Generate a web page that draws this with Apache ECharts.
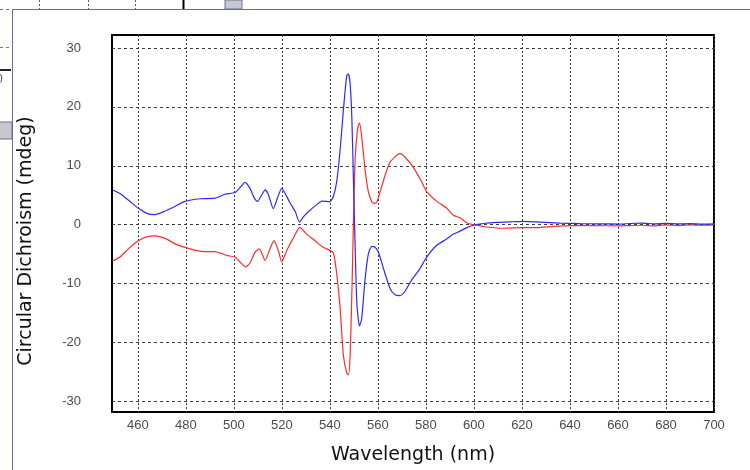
<!DOCTYPE html>
<html>
<head>
<meta charset="utf-8">
<style>
  html, body { margin: 0; padding: 0; background: #ffffff; }
  #chart { width: 750px; height: 470px; }
</style>
<script src="https://cdn.jsdelivr.net/npm/echarts@6/dist/echarts.min.js"></script>
</head>
<body>
<div id="chart"></div>
<script>
// CD spectrum, sample A (blue trace): wavelength (nm) and ellipticity (mdeg)
const blueNm = [449.5, 452.5, 456.7, 460.2, 464.3, 467.1, 470.6, 474.7, 479.6, 485.9,
  492.1, 496.3, 500.4, 502.5, 504.6, 506.7, 508.4, 509.8, 511.6, 513.0,
  514.4, 516.4, 518.1, 519.9, 521.3, 523.4, 525.5, 527.3, 529.2, 531.7,
  534.5, 536.6, 540.0, 541.4, 542.8, 544.2, 545.6, 547.0, 547.7, 548.4,
  549.1, 549.8, 550.5, 551.2, 552.3, 553.2, 554.6, 556.0, 557.4, 558.8,
  560.2, 562.3, 565.0, 567.1, 569.2, 571.3, 574.0, 577.5, 580.3, 584.5,
  588.6, 591.4, 594.2, 597.0, 599.7, 603.9, 609.5, 616.4, 620.6, 627.5,
  635.9, 644.2, 652.5, 660.5, 665, 670, 675, 680, 685, 690, 695, 700];
const blueCd = [5.9, 5.3, 3.95, 2.8, 1.83, 1.72, 2.17, 2.95, 3.95, 4.4,
  4.5, 5.17, 5.45, 6.28, 7.17, 6.17, 4.6, 3.95, 5.05, 5.9,
  5.05, 2.7, 4.5, 6.17, 5.33, 3.67, 2.28, 0.45, 1.45, 2.45,
  3.4, 4.0, 3.9, 4.78, 7.28, 12.5, 19.5, 25.3, 25.6, 23.95,
  18.4, 7.28, -3.83, -13.3, -17.2, -16.05, -9.4, -4.95, -3.67, -3.83,
  -4.67, -7.45, -10.8, -11.9, -12.05, -11.3, -9.4, -7.45, -5.5, -3.5,
  -2.45, -1.6, -1.1, -0.5, -0.1, 0.2, 0.4, 0.5, 0.56, 0.44,
  0.28, 0.17, 0.15, 0.1, 0.2, 0.25, 0.15, 0.22, 0.12, 0.18, 0.1, 0.12];

// CD spectrum, sample B (red trace)
const redNm = [449.5, 452.5, 456.0, 460.2, 463.7, 467.1, 471.3, 476.2, 481.7, 487.3,
  492.1, 497.0, 500.4, 502.5, 504.9, 506.7, 508.8, 510.6, 513.0, 515.0,
  516.7, 518.5, 519.9, 522.0, 524.5, 527.5, 530.3, 533.8, 536.6, 538.6,
  541.4, 542.8, 544.2, 545.6, 547.0, 547.7, 548.4, 549.1, 549.8, 550.5,
  551.5, 552.3, 553.2, 554.6, 556.0, 557.9, 559.2, 560.9, 563.0, 565.0,
  567.9, 569.2, 571.3, 574.7, 578.2, 580.3, 584.5, 588.6, 591.4, 594.2,
  597.0, 599.7, 605.3, 612.3, 619.2, 626.2, 633.1, 641.5, 649.8, 660.5,
  665, 670, 675, 680, 685, 690, 695, 700];
const redCd = [-6.17, -5.5, -4.11, -2.72, -2.06, -1.89, -2.33, -3.39, -4.11, -4.56,
  -4.56, -5.22, -5.5, -6.33, -7.17, -6.5, -4.67, -4.11, -6.05, -4.11,
  -2.72, -4.39, -6.33, -4.39, -2.45, -0.45, -1.61, -2.72, -3.7, -4.11,
  -4.8, -8.28, -14.0, -22.2, -25.2, -25.5, -22.2, -12.2, 0.6, 11.2,
  16.2, 17.3, 15.05, 9.5, 5.6, 3.67, 3.67, 5.6, 8.4, 10.6,
  11.8, 12.1, 11.45, 9.78, 7.28, 5.6, 3.95, 2.83, 1.6, 1.17,
  0.33, 0.0, -0.39, -0.61, -0.5, -0.5, -0.28, -0.17, -0.17, -0.2,
  -0.15, -0.1, -0.2, -0.05, -0.15, -0.05, -0.1, -0.05];

// Tick labels
const xTicks = [460, 480, 500, 520, 540, 560, 580, 600, 620, 640, 660, 680, 700];
const yTicks = [-30, -20, -10, 0, 10, 20, 30];

const xTitle = 'Wavelength (nm)';
const yTitle = 'Circular Dichroism (mdeg)';

const pairs = (xs, ys) => xs.map((x, i) => [x, ys[i]]);

const chart = echarts.init(document.getElementById('chart'), null, { renderer: 'canvas' });

const labelStyle = {
  color: '#4a4a4a',
  fontFamily: 'Liberation Sans, Arial, sans-serif',
  fontSize: 13
};

chart.setOption({
  animation: false,
  backgroundColor: '#ffffff',
  grid: {
    left: 112, top: 35, width: 602, height: 384,
    show: true, borderColor: '#000000', borderWidth: 2, backgroundColor: 'transparent'
  },
  xAxis: {
    type: 'value',
    min: 449.2,
    max: 700,
    name: xTitle,
    nameLocation: 'middle',
    nameGap: 34,
    nameTextStyle: { color: '#111', fontFamily: 'DejaVu Sans, sans-serif', fontSize: 19 },
    axisLine: { show: false },
    axisTick: { show: false, customValues: xTicks },
    axisLabel: Object.assign({ customValues: xTicks, margin: 7 }, labelStyle),
    splitLine: { show: true, lineStyle: { color: '#3a3a3a', width: 1, type: [2, 2] } }
  },
  yAxis: {
    type: 'value',
    min: -31.8,
    max: 32.2,
    axisLine: { show: false },
    axisTick: { show: false, customValues: yTicks },
    axisLabel: Object.assign({ customValues: yTicks, margin: 31 }, labelStyle),
    splitLine: { show: true, lineStyle: { color: '#3a3a3a', width: 1, type: [3, 3] } }
  },
  series: [
    {
      type: 'line',
      data: pairs(redNm, redCd),
      showSymbol: false,
      smooth: 0.2,
      lineStyle: { color: '#ff2a2a', width: 1.2 },
      z: 3
    },
    {
      type: 'line',
      data: pairs(blueNm, blueCd),
      showSymbol: false,
      smooth: 0.2,
      lineStyle: { color: '#2a2aff', width: 1.2 },
      z: 4
    }
  ],
  graphic: [
    // vertical axis title
    {
      type: 'text', x: 26, y: 241, rotation: Math.PI / 2,
      style: {
        text: yTitle, align: 'center', verticalAlign: 'middle',
        fill: '#111', font: '19px "DejaVu Sans", sans-serif'
      }
    },
    // window frame around the plot panel
    { type: 'line', shape: { x1: 12.5, y1: 470, x2: 12.5, y2: 9.5 }, style: { stroke: '#6a6aa8', lineWidth: 1 } },
    { type: 'line', shape: { x1: 12, y1: 9.5, x2: 750, y2: 9.5 }, style: { stroke: '#6a6aa8', lineWidth: 1 } },
    // neighbouring panels peeking out behind the window
    { type: 'line', shape: { x1: 0, y1: 9.5, x2: 11, y2: 9.5 }, style: { stroke: '#777', lineWidth: 1, lineDash: [3, 3] } },
    { type: 'line', shape: { x1: 39.5, y1: 0, x2: 39.5, y2: 9 }, style: { stroke: '#555', lineWidth: 1, lineDash: [2, 2] } },
    { type: 'line', shape: { x1: 88.5, y1: 0, x2: 88.5, y2: 9 }, style: { stroke: '#555', lineWidth: 1, lineDash: [2, 2] } },
    { type: 'line', shape: { x1: 135.5, y1: 0, x2: 135.5, y2: 9 }, style: { stroke: '#555', lineWidth: 1, lineDash: [2, 2] } },
    { type: 'line', shape: { x1: 183.5, y1: 0, x2: 183.5, y2: 9 }, style: { stroke: '#000', lineWidth: 2 } },
    { type: 'rect', shape: { x: 225, y: 0, width: 17, height: 9 }, style: { fill: '#c8c8c8', stroke: '#6a6aa8', lineWidth: 1 } },
    { type: 'line', shape: { x1: 0, y1: 47.5, x2: 11, y2: 47.5 }, style: { stroke: '#777', lineWidth: 1, lineDash: [3, 3] } },
    { type: 'line', shape: { x1: 0, y1: 70, x2: 11, y2: 70 }, style: { stroke: '#222', lineWidth: 2 } },
    { type: 'text', x: -4, y: 74, style: { text: '0', fill: '#555', font: '12px "Liberation Sans", sans-serif' } },
    { type: 'rect', shape: { x: -1, y: 122, width: 13, height: 17 }, style: { fill: '#c8c8c8', stroke: '#6a6aa8', lineWidth: 1 } }
  ]
});
</script>
</body>
</html>
